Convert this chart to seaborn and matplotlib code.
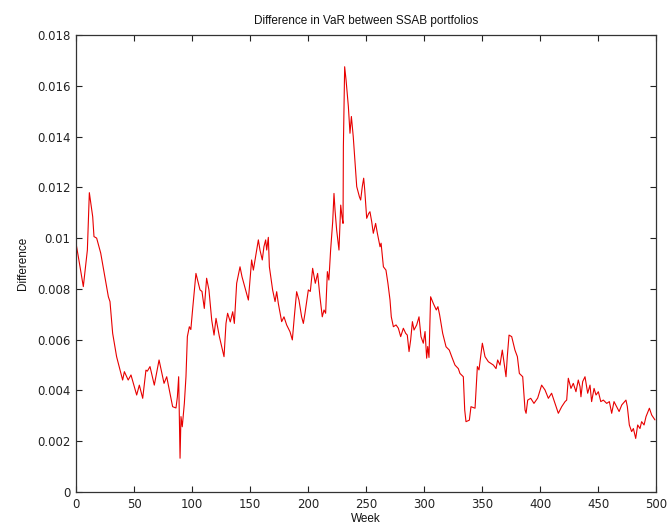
import matplotlib
matplotlib.use("Agg")
import matplotlib.pyplot as plt
from matplotlib.ticker import FuncFormatter, MultipleLocator
import seaborn as sns
import pandas as pd

# Weekly difference in VaR between the two SSAB portfolios
weeks = [
    0, 3, 6.3, 9.8, 11.5, 14.4, 15.5, 17.8, 21.3, 27.9, 29.3, 31.6, 35, 40.2, 41.7, 45, 47.4,
    52.3, 54.6, 57.5, 60.3, 61.5, 63.8, 67.5, 71.6, 75.9, 78.2, 83.3, 86.2, 87.4, 88.5, 89.7,
    90.5, 91.6, 93.4, 94.8, 96, 97.7, 99, 100.6, 103.4, 106.9, 108.6, 110.6, 112.6, 114.6,
    117, 119, 120.7, 123.6, 127.6, 129.3, 130.7, 133, 135.1, 136.5, 138.5, 141.4, 143.1,
    146.6, 148.6, 150, 151.4, 152.9, 155.7, 157.2, 158.6, 160.6, 162, 163.5, 164.4, 165.8,
    166.7, 169.5, 171.6, 173, 174.4, 177.3, 179.3, 181.6, 184.5, 186.5, 188.2, 190.2, 192.2,
    194.5, 196, 197.4, 200.3, 202, 204, 206.3, 208.3, 210.3, 212.3, 213.8, 215.2, 216.7,
    218, 219.5, 221.3, 222.4, 223.3, 224.7, 226.7, 228.2, 229.3, 230.2, 230.5, 231.6, 232.8,
    234.8, 236.2, 237.4, 239, 240.4, 242, 244.3, 245.4, 246.8, 248, 248.9, 250.6, 252.3,
    253.4, 254.9, 256.3, 258.3, 259.8, 262.1, 263, 265, 267.2, 268.9, 270.7, 271.8, 273.6,
    275.9, 277.9, 279.9, 282.2, 284.2, 285.6, 287.1, 288.5, 290, 291.4, 293.7, 295.7, 297.4,
    299.4, 300.9, 302.3, 303.2, 304.3, 305.7, 308, 310.6, 312, 313.5, 316.1, 319, 321.8,
    323.9, 326.7, 329.6, 331, 333.9, 335.1, 336.2, 339.1, 340.5, 344, 346, 347.4, 350.3,
    352.6, 355.5, 359.8, 362.1, 363.5, 365.5, 367.5, 370.7, 371.8, 373.3, 375.6, 378.4,
    380.5, 382.2, 385.1, 387.1, 388, 389.4, 392, 394.8, 398, 401.4, 404.3, 407.2, 410, 412,
    415.8, 418.7, 421.6, 423, 424.4, 426.7, 428.7, 431, 433, 434.5, 435.3, 436.8, 438.8,
    441.1, 443.1, 444.5, 446.6, 448.3, 450.3, 452.4, 454.6, 457.5, 459.8, 461.8, 463.8,
    466.1, 468.2, 470.5, 474.1, 475.3, 477, 479, 480.5, 482.5, 484.2, 486.2, 487.6, 489.7,
    491.4, 494.3, 496.3, 499.1,
]
difference = [
    0.00980, 0.00900, 0.00809, 0.00953, 0.01179, 0.01084, 0.01006, 0.01000, 0.00941, 0.00769,
    0.00750, 0.00625, 0.00533, 0.00441, 0.00474, 0.00441, 0.00461, 0.00382, 0.00421, 0.00369,
    0.00480, 0.00476, 0.00494, 0.00421, 0.00520, 0.00428, 0.00454, 0.00336, 0.00331, 0.00375,
    0.00454, 0.00133, 0.00297, 0.00257, 0.00349, 0.00454, 0.00612, 0.00651, 0.00640, 0.00723,
    0.00861, 0.00796, 0.00790, 0.00723, 0.00842, 0.00796, 0.00677, 0.00618, 0.00684, 0.00612,
    0.00533, 0.00664, 0.00704, 0.00670, 0.00710, 0.00664, 0.00822, 0.00887, 0.00848, 0.00789,
    0.00756, 0.00835, 0.00914, 0.00874, 0.00953, 0.00993, 0.00953, 0.00914, 0.00966, 0.00993,
    0.00953, 0.01003, 0.00887, 0.00796, 0.00750, 0.00789, 0.00743, 0.00671, 0.00690, 0.00658,
    0.00631, 0.00599, 0.00690, 0.00789, 0.00756, 0.00690, 0.00664, 0.00704, 0.00796, 0.00790,
    0.00881, 0.00822, 0.00861, 0.00769, 0.00690, 0.00717, 0.00704, 0.00868, 0.00835, 0.00953,
    0.01065, 0.01176, 0.01110, 0.01032, 0.00953, 0.01130, 0.01085, 0.01058, 0.01360, 0.01675,
    0.01623, 0.01518, 0.01413, 0.01479, 0.01400, 0.01308, 0.01203, 0.01163, 0.01150, 0.01203,
    0.01236, 0.01190, 0.01078, 0.01097, 0.01104, 0.01065, 0.01019, 0.01058, 0.01019, 0.00966,
    0.00980, 0.00887, 0.00874, 0.00822, 0.00756, 0.00690, 0.00651, 0.00658, 0.00645, 0.00612,
    0.00645, 0.00625, 0.00618, 0.00553, 0.00599, 0.00671, 0.00638, 0.00658, 0.00690, 0.00612,
    0.00586, 0.00632, 0.00527, 0.00573, 0.00530, 0.00769, 0.00743, 0.00717, 0.00730, 0.00697,
    0.00625, 0.00572, 0.00559, 0.00533, 0.00500, 0.00486, 0.00467, 0.00454, 0.00323, 0.00277,
    0.00283, 0.00336, 0.00330, 0.00494, 0.00481, 0.00586, 0.00533, 0.00513, 0.00500, 0.00486,
    0.00520, 0.00500, 0.00559, 0.00454, 0.00533, 0.00618, 0.00612, 0.00559, 0.00533, 0.00467,
    0.00454, 0.00323, 0.00310, 0.00362, 0.00369, 0.00349, 0.00370, 0.00421, 0.00402, 0.00369,
    0.00389, 0.00362, 0.00310, 0.00336, 0.00356, 0.00362, 0.00448, 0.00408, 0.00428, 0.00395,
    0.00441, 0.00415, 0.00375, 0.00435, 0.00454, 0.00389, 0.00421, 0.00356, 0.00408, 0.00382,
    0.00395, 0.00356, 0.00362, 0.00349, 0.00356, 0.00310, 0.00356, 0.00336, 0.00317, 0.00343,
    0.00362, 0.00336, 0.00264, 0.00238, 0.00250, 0.00211, 0.00264, 0.00250, 0.00277, 0.00264,
    0.00297, 0.00330, 0.00303, 0.00284,
]

df = pd.DataFrame({"Week": weeks, "Difference": difference})

sns.set_style("white")
plt.rcParams["font.family"] = ["Liberation Sans", "DejaVu Sans"]

fig = plt.figure(figsize=(6.67, 5.29), dpi=100)
ax = fig.add_axes([76 / 667, 37 / 529, 580 / 667, 457 / 529])

sns.lineplot(data=df, x="Week", y="Difference", color="#e80000", linewidth=0.8,
             estimator=None, sort=False, ax=ax)

ax.set_xlim(0, 500)
ax.set_ylim(0, 0.018)
ax.xaxis.set_major_locator(MultipleLocator(50))
ax.yaxis.set_major_locator(MultipleLocator(0.002))
ax.yaxis.set_major_formatter(FuncFormatter(lambda v, _: "0" if abs(v) < 1e-12 else f"{v:g}"))

ax.tick_params(direction="in", length=4, width=0.8, colors="#222222",
               labelsize=8.5, top=True, right=True, bottom=True, left=True, pad=4)
for lbl in ax.get_xticklabels() + ax.get_yticklabels():
    lbl.set_family(["DejaVu Sans"])
for s in ax.spines.values():
    s.set_visible(True)
    s.set_color("#333333")
    s.set_linewidth(0.9)

ax.set_title("Difference in VaR between SSAB portfolios", fontsize=8.5, pad=8, color="#111111")
ax.set_xlabel("Week", fontsize=8.5, labelpad=2, color="#111111")
ax.set_ylabel("Difference", fontsize=8.5, labelpad=6, color="#111111")

fig.savefig("out.png", dpi=100)
